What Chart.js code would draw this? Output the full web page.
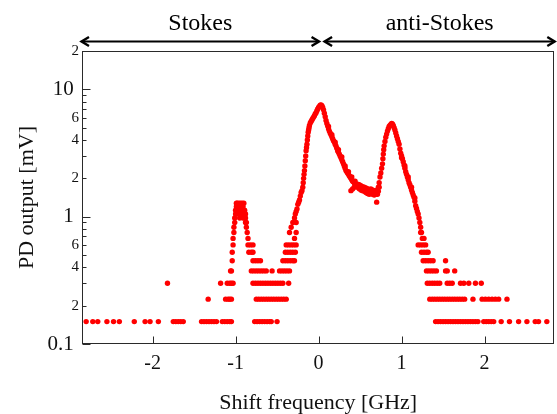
<!DOCTYPE html>
<html><head><meta charset="utf-8">
<script src="https://cdn.jsdelivr.net/npm/chart.js@4/dist/chart.umd.min.js"></script>
<style>html,body{margin:0;padding:0;background:#fff;overflow:hidden}</style>
</head><body>
<canvas id="c" width="557" height="414"></canvas>
<script>
// ---- data: [shift frequency (GHz), PD output (mV)] ----
const baselineLeft = [
  [-2.80,0.15],[-2.72,0.15],[-2.66,0.15],[-2.55,0.15],[-2.47,0.15],[-2.40,0.15],
  [-2.22,0.15],[-2.09,0.15],[-2.03,0.15],[-1.93,0.15],[-1.82,0.3],
  [-1.75,0.15],[-1.72,0.15],[-1.69,0.15],[-1.66,0.15],[-1.63,0.15]
];
const stokesLow = [
  [-1.41,0.15],[-1.38,0.15],[-1.35,0.15],[-1.32,0.15],[-1.29,0.15],[-1.26,0.15],[-1.23,0.15],
  [-1.16,0.15],[-1.13,0.15],[-1.10,0.15],[-1.07,0.15],[-1.05,0.15],
  [-0.77,0.15],[-0.74,0.15],[-0.71,0.15],[-0.68,0.15],[-0.65,0.15],[-0.62,0.15],[-0.59,0.15],[-0.57,0.15],[-0.50,0.15],
  [-1.33,0.225],[-1.12,0.225],[-1.09,0.225],[-1.07,0.225],[-1.05,0.225],
  [-0.75,0.225],[-0.72,0.225],[-0.69,0.225],[-0.66,0.225],[-0.63,0.225],[-0.60,0.225],[-0.57,0.225],
  [-0.54,0.225],[-0.51,0.225],[-0.48,0.225],[-0.45,0.225],[-0.42,0.225],[-0.39,0.225],
  [-1.18,0.3],[-1.10,0.3],[-1.07,0.3],[-1.05,0.3],[-1.03,0.3],
  [-0.79,0.3],[-0.76,0.3],[-0.73,0.3],[-0.70,0.3],[-0.67,0.3],[-0.64,0.3],[-0.61,0.3],[-0.58,0.3],
  [-0.55,0.3],[-0.52,0.3],[-0.49,0.3],[-0.46,0.3],[-0.43,0.3],[-0.36,0.3],
  [-1.06,0.375],[-1.05,0.375],[-0.81,0.375],[-0.78,0.375],[-0.75,0.375],[-0.72,0.375],[-0.69,0.375],
  [-0.66,0.375],[-0.63,0.375],[-0.56,0.375],[-0.47,0.375],[-0.44,0.375],[-0.41,0.375],[-0.38,0.375],[-0.35,0.375],
  [-1.04,0.45],[-0.79,0.45],[-0.76,0.45],[-0.73,0.45],[-0.70,0.45],
  [-0.43,0.45],[-0.40,0.45],[-0.37,0.45],[-0.34,0.45],[-0.31,0.45],[-0.29,0.45],
  [-1.04,0.525],[-0.84,0.525],[-0.81,0.525],[-0.79,0.525],
  [-0.40,0.525],[-0.37,0.525],[-0.34,0.525],[-0.31,0.525],[-0.28,0.525],
  [-1.03,0.6],[-0.85,0.6],[-0.82,0.6],[-0.79,0.6],
  [-0.39,0.6],[-0.36,0.6],[-0.33,0.6],[-0.30,0.6],[-0.27,0.6],
  [-1.03,0.675],[-0.85,0.675],[-0.29,0.675],
  [-1.02,0.75],[-0.86,0.75],[-0.35,0.75],[-0.27,0.75],
  [-1.02,0.825],[-0.87,0.825],[-0.33,0.825],
  [-1.01,0.9],[-0.87,0.9],[-0.31,0.9],[-0.27,0.9],
  [-1.01,0.975],[-0.88,0.975],[-0.29,0.975]
];
const stokesPeak = [
  [-1.00,1.05],[-1.00,1.125],[-0.99,1.2],[-0.99,1.275],[-0.98,1.275],[-0.98,1.125],
  [-0.97,1.2],[-0.97,1.05],[-0.96,1.275],[-0.96,1.125],[-0.95,1.2],[-0.95,0.975],
  [-0.94,1.275],[-0.94,1.125],[-0.93,1.2],[-0.93,1.05],[-0.92,1.275],[-0.92,1.125],
  [-0.91,1.2],[-0.91,0.975],[-0.90,1.275],[-0.90,1.05],[-0.89,1.125],[-0.89,0.975],
  [-0.88,1.05],[-0.88,0.9]
];
const centralPeak = [
  [-0.28,1.05],[-0.27,1.1],[-0.26,1.15],[-0.25,1.25],[-0.24,1.3],[-0.23,1.35],[-0.22,1.45],[-0.21,1.55],
  [-0.20,1.6],[-0.19,1.7],[-0.185,1.85],[-0.18,2.0],[-0.175,2.15],[-0.17,2.3],[-0.165,2.5],[-0.16,2.75],
  [-0.155,3.0],[-0.15,3.3],[-0.145,3.5],[-0.14,3.7],[-0.135,4.0],[-0.13,4.3],[-0.125,4.6],[-0.12,4.8],
  [-0.115,5.0],[-0.11,5.2],[-0.10,5.45],[-0.09,5.6],[-0.08,5.75],[-0.07,5.9],[-0.06,6.05],[-0.05,6.2],
  [-0.04,6.4],[-0.03,6.55],[-0.02,6.8],[-0.01,7.0],[0.00,7.2],[0.01,7.35],[0.02,7.5],[0.03,7.55],
  [0.04,7.45],[0.05,7.2],[0.06,6.9],[0.07,6.5],[0.08,6.1],[0.09,5.7],[0.10,5.4],[0.11,5.15],
  [0.12,4.9],[0.13,4.7],[0.14,4.55],[0.15,4.4],[0.16,4.25],[0.17,4.1],[0.18,3.95],[0.19,3.85],
  [0.20,3.7],[0.21,3.6],[0.22,3.45],[0.23,3.3],[0.24,3.2],[0.25,3.1],[0.26,3.0],[0.27,2.9],
  [0.28,2.8],[0.29,2.7],[0.30,2.6],[0.31,2.5],[0.32,2.4],[0.33,2.3],[0.34,2.25],[0.35,2.2],
  [0.36,2.15],[0.37,2.1],[0.38,2.05],[0.39,2.0],[0.40,1.95],[0.41,1.9],[0.42,1.88],[0.43,1.85],
  [0.44,1.8],[0.45,1.78],
  [0.12,5.1],[0.16,4.4],[0.20,3.85],[0.24,3.35],[0.28,2.95],[0.32,2.5],[0.36,2.25],[0.40,2.05],[0.44,1.9]
];
const dipScatter = [
  [0.39,1.6],[0.41,1.65],[0.43,1.7],[0.46,1.75],[0.47,1.8],[0.47,1.7],[0.48,1.74],[0.49,1.66],
  [0.49,1.78],[0.50,1.7],[0.51,1.62],[0.51,1.75],[0.52,1.68],[0.53,1.6],[0.53,1.72],[0.54,1.65],
  [0.55,1.58],[0.55,1.7],[0.56,1.62],[0.57,1.55],[0.57,1.68],[0.58,1.6],[0.59,1.52],[0.59,1.66],
  [0.60,1.58],[0.61,1.62],[0.61,1.5],[0.62,1.56],[0.63,1.65],[0.63,1.52],[0.64,1.58],[0.65,1.5],
  [0.65,1.62],[0.66,1.55],[0.67,1.6],[0.67,1.48],[0.68,1.54],[0.69,1.5],[0.69,1.6],[0.70,1.3],
  [0.70,1.55],[0.71,1.62],[0.71,1.5],[0.72,1.7],[0.72,1.58],[0.73,1.85],[0.73,1.7]
];
const antiStokesPeak = [
  [0.74,2.05],[0.75,2.2],[0.76,2.4],[0.77,2.6],[0.775,2.85],[0.78,3.1],[0.785,3.35],[0.79,3.6],
  [0.80,3.9],[0.81,4.2],[0.82,4.45],[0.83,4.7],[0.84,4.9],[0.85,5.1],[0.86,5.2],[0.87,5.3],
  [0.88,5.4],[0.89,5.35],[0.90,5.2],[0.91,5.0],[0.92,4.8],[0.93,4.55],[0.94,4.3],[0.95,4.1],
  [0.96,3.9],[0.97,3.7],[0.98,3.4],[0.99,3.15],[1.00,3.0],[1.01,2.85],[1.02,2.7],[1.03,2.55],
  [1.04,2.4],[1.05,2.25],[1.06,2.15],[1.07,2.05],[1.08,1.95],[1.09,1.85],[1.10,1.78],[1.11,1.7],
  [1.12,1.62],[1.13,1.55],[1.14,1.48],[1.15,1.42],[1.16,1.32],[1.17,1.22],[1.18,1.16],[1.19,1.1],
  [1.20,1.05],[1.00,2.9],[1.04,2.5],[1.08,2.05],[1.12,1.7],[1.16,1.4]
];
const antiStokesLow = [
  [1.21,0.975],[1.22,0.9],[1.23,0.825],[1.23,0.75],[1.24,0.75],[1.25,0.675],[1.27,0.675],
  [1.20,0.6],[1.23,0.6],[1.26,0.6],[1.29,0.6],
  [1.24,0.525],[1.27,0.525],[1.30,0.525],[1.32,0.525],
  [1.26,0.45],[1.29,0.45],[1.32,0.45],[1.35,0.45],[1.38,0.45],[1.53,0.45],
  [1.30,0.375],[1.33,0.375],[1.36,0.375],[1.39,0.375],[1.42,0.375],[1.53,0.375],[1.55,0.375],[1.64,0.375],
  [1.31,0.3],[1.34,0.3],[1.37,0.3],[1.40,0.3],[1.43,0.3],[1.46,0.3],[1.55,0.3],[1.58,0.3],[1.61,0.3],
  [1.71,0.3],[1.75,0.3],[1.81,0.3],[1.89,0.3],[1.96,0.3],
  [1.34,0.225],[1.37,0.225],[1.40,0.225],[1.43,0.225],[1.46,0.225],[1.49,0.225],[1.52,0.225],[1.55,0.225],
  [1.58,0.225],[1.61,0.225],[1.64,0.225],[1.67,0.225],[1.70,0.225],[1.73,0.225],[1.76,0.225],[1.86,0.225],
  [1.97,0.225],[2.01,0.225],[2.05,0.225],[2.09,0.225],[2.13,0.225],[2.17,0.225],[2.27,0.225],
  [1.41,0.15],[1.44,0.15],[1.47,0.15],[1.50,0.15],[1.53,0.15],[1.56,0.15],[1.59,0.15],[1.62,0.15],
  [1.65,0.15],[1.68,0.15],[1.71,0.15],[1.74,0.15],[1.77,0.15],[1.80,0.15],[1.83,0.15],[1.86,0.15],
  [1.89,0.15],[1.92,0.15],[1.99,0.15],[2.02,0.15],[2.05,0.15],[2.08,0.15],[2.11,0.15],[2.20,0.15],
  [2.30,0.15],[2.41,0.15],[2.51,0.15],[2.61,0.15],[2.65,0.15],[2.75,0.15]
];
const xTickValues = [-2, -1, 0, 1, 2];
const yTickValues = [0.1,0.2,0.3,0.4,0.5,0.6,0.7,0.8,0.9,1,2,3,4,5,6,7,8,9,10,20];
const yTickLabels = {'0.1':'0.1','0.2':'2','0.4':'4','0.6':'6','1':'1','2':'2','4':'4','6':'6','10':'10','20':'2'};
const yMajorTicks = [0.1, 1, 10];
const regionLabels = ['Stokes', 'anti-Stokes'];
const axisTitles = {x: 'Shift frequency [GHz]', y: 'PD output [mV]'};

const allPoints = [].concat(baselineLeft, stokesLow, stokesPeak, centralPeak, dipScatter, antiStokesPeak, antiStokesLow)
  .map(p => ({x: p[0], y: p[1]}));

const SERIF = "'Liberation Serif', 'Times New Roman', serif";

const decorPlugin = {
  id: 'decor',
  afterDatasetsDraw(chart) {
    const {ctx, chartArea: a, scales: {x, y}} = chart;
    ctx.save();
    ctx.strokeStyle = '#2a2a2a';
    ctx.lineWidth = 1;
    const L = Math.round(a.left) + 0.5, R = Math.round(a.right) - 0.5;
    const T = Math.round(a.top) + 0.5, B = Math.round(a.bottom) - 0.5;
    ctx.strokeRect(L, T, R - L, B - T);
    ctx.beginPath();
    y.ticks.forEach(t => {
      const py = Math.round(y.getPixelForValue(t.value)) + 0.5;
      const len = yMajorTicks.includes(t.value) ? 8 : 4;
      ctx.moveTo(L, py); ctx.lineTo(L + len, py);
    });
    x.ticks.forEach(t => {
      const px = Math.round(x.getPixelForValue(t.value)) + 0.5;
      ctx.moveTo(px, B); ctx.lineTo(px, B - 7);
    });
    ctx.stroke();

    // double arrows above the plot
    const ay = 41.5;
    const x0 = x.getPixelForValue(0);
    const arrows = [[a.left - 1, x0 + 1], [x0 + 5.5, a.right + 1]];
    ctx.strokeStyle = '#000';
    arrows.forEach(([l, r]) => {
      ctx.lineWidth = 2;
      ctx.beginPath(); ctx.moveTo(l + 1, ay); ctx.lineTo(r - 1, ay); ctx.stroke();
      ctx.lineWidth = 2.4;
      ctx.beginPath();
      ctx.moveTo(l + 8, ay - 4.5); ctx.lineTo(l + 0.5, ay); ctx.lineTo(l + 8, ay + 4.5);
      ctx.moveTo(r - 8, ay - 4.5); ctx.lineTo(r - 0.5, ay); ctx.lineTo(r - 8, ay + 4.5);
      ctx.stroke();
    });
    ctx.fillStyle = '#000';
    ctx.font = '24px ' + SERIF;
    ctx.textAlign = 'center';
    ctx.textBaseline = 'alphabetic';
    ctx.fillText(regionLabels[0], (arrows[0][0] + arrows[0][1]) / 2, 30);
    ctx.fillText(regionLabels[1], (arrows[1][0] + arrows[1][1]) / 2, 30);
    ctx.restore();
  }
};

new Chart(document.getElementById('c'), {
  type: 'scatter',
  data: {
    datasets: [{
      data: allPoints,
      pointRadius: 2.7,
      pointHoverRadius: 2.7,
      pointBackgroundColor: '#ff0000',
      pointBorderWidth: 0,
      borderColor: '#ff0000',
      showLine: false
    }]
  },
  options: {
    responsive: false,
    animation: false,
    events: [],
    layout: {padding: {top: 51, right: 1, left: 0, bottom: 0}},
    plugins: {legend: {display: false}, tooltip: {enabled: false}},
    scales: {
      x: {
        type: 'linear',
        min: -2.85, max: 2.84,
        afterBuildTicks: s => { s.ticks = xTickValues.map(v => ({value: v})); },
        afterFit: s => { s.height = 70; },
        grid: {display: false, drawTicks: false},
        border: {display: false},
        ticks: {
          autoSkip: false, maxRotation: 0, padding: 8,
          color: '#111',
          font: {family: SERIF, size: 20},
          callback: v => String(v)
        },
        title: {
          display: true, text: axisTitles.x, color: '#111',
          font: {family: SERIF, size: 22, lineHeight: 1},
          padding: {top: 0, bottom: 0}
        }
      },
      y: {
        type: 'logarithmic',
        min: 0.1, max: 20,
        afterBuildTicks: s => { s.ticks = yTickValues.map(v => ({value: v})); },
        afterFit: s => { s.width = 82; },
        grid: {display: false, drawTicks: false},
        border: {display: false},
        ticks: {
          autoSkip: false, padding: 3,
          color: '#111',
          font: ctx => (ctx.tick && yMajorTicks.includes(ctx.tick.value))
            ? {family: SERIF, size: 21} : {family: SERIF, size: 15},
          callback: v => {
            const lab = yTickLabels[String(v)];
            if (!lab) return '';
            return yMajorTicks.includes(v) ? lab + ' ' : lab;
          }
        },
        title: {
          display: true, text: axisTitles.y, color: '#111',
          font: {family: SERIF, size: 22, lineHeight: 1},
          padding: {top: 16, bottom: 0}
        }
      }
    }
  },
  plugins: [decorPlugin]
});
</script>
</body></html>
